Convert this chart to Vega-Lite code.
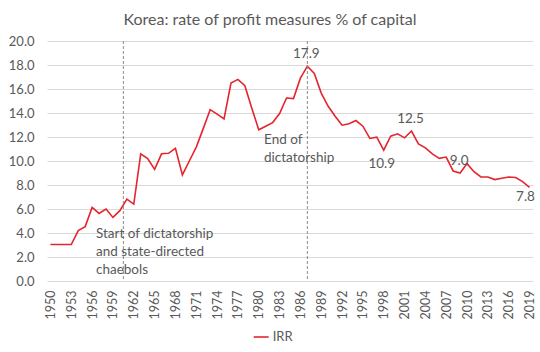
{
  "$schema": "https://vega.github.io/schema/vega-lite/v6.json",
  "width": 486,
  "height": 240,
  "autosize": "none",
  "padding": {"left": 47, "top": 41, "right": 7, "bottom": 71},
  "background": "white",
  "title": {"text": "Korea: rate of profit measures % of capital", "font": "Lato", "fontSize": 16, "fontWeight": "normal", "color": "#595959", "dx": -20, "offset": 7},
  "config": {
    "view": {"stroke": null},
    "axis": {"labelFont": "Lato", "labelColor": "#595959", "title": null, "ticks": false, "domain": false},
    "axisY": {"labelOverlap": false, "labelFlush": false, "grid": true, "gridColor": "#D9D9D9", "gridWidth": 1, "labelFontSize": 13, "labelPadding": 13},
    "text": {"font": "Lato", "color": "#595959"}
  },
  "datasets": {
    "irr": [
      {"year": 1950, "value": 3.04, "series": "IRR"},
      {"year": 1951, "value": 3.04, "series": "IRR"},
      {"year": 1952, "value": 3.04, "series": "IRR"},
      {"year": 1953, "value": 3.04, "series": "IRR"},
      {"year": 1954, "value": 4.2, "series": "IRR"},
      {"year": 1955, "value": 4.53, "series": "IRR"},
      {"year": 1956, "value": 6.13, "series": "IRR"},
      {"year": 1957, "value": 5.63, "series": "IRR"},
      {"year": 1958, "value": 6.0, "series": "IRR"},
      {"year": 1959, "value": 5.3, "series": "IRR"},
      {"year": 1960, "value": 5.86, "series": "IRR"},
      {"year": 1961, "value": 6.83, "series": "IRR"},
      {"year": 1962, "value": 6.41, "series": "IRR"},
      {"year": 1963, "value": 10.6, "series": "IRR"},
      {"year": 1964, "value": 10.2, "series": "IRR"},
      {"year": 1965, "value": 9.3, "series": "IRR"},
      {"year": 1966, "value": 10.6, "series": "IRR"},
      {"year": 1967, "value": 10.64, "series": "IRR"},
      {"year": 1968, "value": 11.05, "series": "IRR"},
      {"year": 1969, "value": 8.84, "series": "IRR"},
      {"year": 1970, "value": 10.0, "series": "IRR"},
      {"year": 1971, "value": 11.16, "series": "IRR"},
      {"year": 1972, "value": 12.7, "series": "IRR"},
      {"year": 1973, "value": 14.28, "series": "IRR"},
      {"year": 1974, "value": 13.9, "series": "IRR"},
      {"year": 1975, "value": 13.5, "series": "IRR"},
      {"year": 1976, "value": 16.5, "series": "IRR"},
      {"year": 1977, "value": 16.8, "series": "IRR"},
      {"year": 1978, "value": 16.27, "series": "IRR"},
      {"year": 1979, "value": 14.4, "series": "IRR"},
      {"year": 1980, "value": 12.6, "series": "IRR"},
      {"year": 1981, "value": 12.9, "series": "IRR"},
      {"year": 1982, "value": 13.2, "series": "IRR"},
      {"year": 1983, "value": 13.95, "series": "IRR"},
      {"year": 1984, "value": 15.25, "series": "IRR"},
      {"year": 1985, "value": 15.2, "series": "IRR"},
      {"year": 1986, "value": 16.9, "series": "IRR"},
      {"year": 1987, "value": 17.9, "series": "IRR"},
      {"year": 1988, "value": 17.3, "series": "IRR"},
      {"year": 1989, "value": 15.66, "series": "IRR"},
      {"year": 1990, "value": 14.56, "series": "IRR"},
      {"year": 1991, "value": 13.73, "series": "IRR"},
      {"year": 1992, "value": 12.98, "series": "IRR"},
      {"year": 1993, "value": 13.1, "series": "IRR"},
      {"year": 1994, "value": 13.37, "series": "IRR"},
      {"year": 1995, "value": 12.9, "series": "IRR"},
      {"year": 1996, "value": 11.88, "series": "IRR"},
      {"year": 1997, "value": 11.99, "series": "IRR"},
      {"year": 1998, "value": 10.9, "series": "IRR"},
      {"year": 1999, "value": 12.07, "series": "IRR"},
      {"year": 2000, "value": 12.27, "series": "IRR"},
      {"year": 2001, "value": 11.93, "series": "IRR"},
      {"year": 2002, "value": 12.5, "series": "IRR"},
      {"year": 2003, "value": 11.43, "series": "IRR"},
      {"year": 2004, "value": 11.1, "series": "IRR"},
      {"year": 2005, "value": 10.6, "series": "IRR"},
      {"year": 2006, "value": 10.22, "series": "IRR"},
      {"year": 2007, "value": 10.33, "series": "IRR"},
      {"year": 2008, "value": 9.17, "series": "IRR"},
      {"year": 2009, "value": 9.0, "series": "IRR"},
      {"year": 2010, "value": 9.78, "series": "IRR"},
      {"year": 2011, "value": 9.11, "series": "IRR"},
      {"year": 2012, "value": 8.67, "series": "IRR"},
      {"year": 2013, "value": 8.67, "series": "IRR"},
      {"year": 2014, "value": 8.45, "series": "IRR"},
      {"year": 2015, "value": 8.56, "series": "IRR"},
      {"year": 2016, "value": 8.67, "series": "IRR"},
      {"year": 2017, "value": 8.62, "series": "IRR"},
      {"year": 2018, "value": 8.28, "series": "IRR"},
      {"year": 2019, "value": 7.8, "series": "IRR"}
    ],
    "events": [{"year": 1960.5}, {"year": 1987}],
    "notes": [
      {"year": 1956.55, "value": 3.92, "note": "Start of dictatorship"},
      {"year": 1956.55, "value": 2.39, "note": "and state-directed"},
      {"year": 1956.55, "value": 0.92, "note": "chaebols"},
      {"year": 1980.76, "value": 11.75, "note": "End of"},
      {"year": 1980.76, "value": 10.22, "note": "dictatorship"}
    ]
  },
  "encoding": {
    "x": {
      "field": "year", "type": "quantitative",
      "scale": {"domain": [1949.5, 2019.5], "nice": false, "zero": false},
      "axis": {
        "values": [1950,1953,1956,1959,1962,1965,1968,1971,1974,1977,1980,1983,1986,1989,1992,1995,1998,2001,2004,2007,2010,2013,2016,2019],
        "format": "d", "labelAngle": -90, "labelFontSize": 12.5, "labelPadding": 9,
        "grid": false, "labelFlush": false, "labelOverlap": false
      }
    }
  },
  "layer": [
    {
      "data": {"name": "irr"},
      "mark": {"type": "line", "strokeWidth": 1.6},
      "encoding": {
        "y": {
          "field": "value", "type": "quantitative",
          "scale": {"domain": [0, 20], "nice": false},
          "axis": {"values": [0,2,4,6,8,10,12,14,16,18,20], "format": ".1f"}
        },
        "color": {
          "field": "series", "type": "nominal",
          "scale": {"range": ["#E4252E"]},
          "legend": {
            "title": null, "orient": "none", "legendX": 205.7, "legendY": 287.5,
            "symbolType": "stroke", "symbolSize": 225, "symbolStrokeWidth": 1.6,
            "labelFont": "Lato", "labelFontSize": 13, "labelColor": "#595959", "labelOffset": 3, "padding": 0
          }
        }
      }
    },
    {
      "data": {"name": "events"},
      "mark": {"type": "rule", "color": "#8C8C8C", "strokeDash": [3, 2], "strokeWidth": 1},
      "encoding": {}
    },
    {
      "data": {"name": "notes"},
      "mark": {"type": "text", "align": "left", "baseline": "middle", "fontSize": 13.5},
      "encoding": {
        "y": {"field": "value", "type": "quantitative", "axis": {"values": [0,2,4,6,8,10,12,14,16,18,20], "format": ".1f"}},
        "text": {"field": "note"}
      }
    },
    {
      "data": {"name": "irr"},
      "transform": [{"filter": {"field": "year", "oneOf": [1987, 2002, 2009]}}],
      "mark": {"type": "text", "align": "center", "baseline": "middle", "fontSize": 13.5, "dy": -12, "dx": -1},
      "encoding": {
        "y": {"field": "value", "type": "quantitative", "axis": {"values": [0,2,4,6,8,10,12,14,16,18,20], "format": ".1f"}},
        "text": {"field": "value", "format": ".1f"}
      }
    },
    {
      "data": {"name": "irr"},
      "transform": [{"filter": {"field": "year", "oneOf": [1998]}}],
      "mark": {"type": "text", "align": "center", "baseline": "middle", "fontSize": 13.5, "dy": 14, "dx": -2},
      "encoding": {
        "y": {"field": "value", "type": "quantitative", "axis": {"values": [0,2,4,6,8,10,12,14,16,18,20], "format": ".1f"}},
        "text": {"field": "value", "format": ".1f"}
      }
    },
    {
      "data": {"name": "irr"},
      "transform": [{"filter": {"field": "year", "oneOf": [2019]}}],
      "mark": {"type": "text", "align": "center", "baseline": "middle", "fontSize": 13.5, "dy": 10, "dx": -4},
      "encoding": {
        "y": {"field": "value", "type": "quantitative", "axis": {"values": [0,2,4,6,8,10,12,14,16,18,20], "format": ".1f"}},
        "text": {"field": "value", "format": ".1f"}
      }
    }
  ]
}
